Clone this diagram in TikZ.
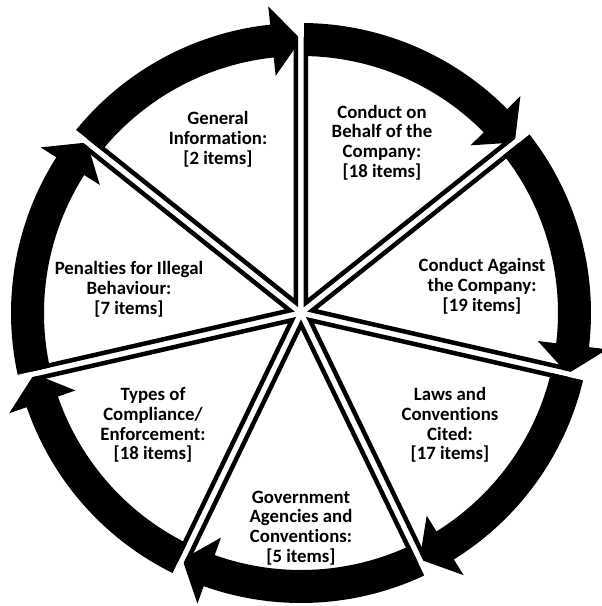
\documentclass[tikz,border=0pt]{standalone}
\usepackage{fontspec}
\setmainfont{Carlito}[Ligatures={NoCommon}]
\usetikzlibrary{calc}
\begin{document}
\begin{tikzpicture}[x=1pt,y=1pt,
  lbl/.style={align=center,font=\bfseries\fontsize{18.8}{19.8}\selectfont,inner sep=0pt},
  gapline/.style={white,line width=5.5pt},
  wedgeline/.style={black,line width=4.5pt,line join=miter}]
\useasboundingbox (-301,-293) rectangle (301,313);
\def\ro{290}\def\ri{257}\def\rmid{273.5}\def\ah{35}\def\al{6.1}
\def\g{5}\def\rw{276}
\pgfmathsetmacro\rA{\rmid+\ah}
\pgfmathsetmacro\rB{\rmid-\ah}
\pgfmathsetmacro\rG{\ro+3}
\pgfmathsetmacro\apx{\g/sin(180/7)}
% ring arcs with arrowheads
\foreach \k in {0,...,6}{
  \pgfmathsetmacro\a{90-\k*360/7}
  \pgfmathsetmacro\e{90-(\k+1)*360/7}
  \pgfmathsetmacro\b{\e+\al}
  \fill[black] (\a:\ro pt) arc[start angle=\a,end angle=\b,radius=\ro pt]
    -- (\b:\rA pt) -- (\e:\rmid pt) -- (\b:\rB pt) -- (\b:\ri pt)
    arc[start angle=\b,end angle=\a,radius=\ri pt] -- cycle;
}
% white gaps
\foreach \k in {0,...,6}{
  \pgfmathsetmacro\a{90-\k*360/7}
  \draw[gapline] (0,0) -- (\a:\rG pt);
}
% wedge outlines
\foreach \k in {0,...,6}{
  \pgfmathsetmacro\a{90-\k*360/7}
  \pgfmathsetmacro\e{90-(\k+1)*360/7}
  \pgfmathsetmacro\bis{(\a+\e)/2}
  \pgfmathsetmacro\am{\a-90}
  \pgfmathsetmacro\ep{\e+90}
  \draw[wedgeline] ($(\a:\rw pt)+(\am:\g pt)$) -- (\bis:\apx pt) -- ($(\e:\rw pt)+(\ep:\g pt)$);
}
\node[lbl] (gen) at (-83,174) {General\\Information:\\{[2 items]}};
\node[lbl] (beh) at (81,170.5) {Conduct on\\Behalf of the\\Company:\\{[18 items]}};
\node[lbl] (aga) at (181,27) {Conduct Against\\the Company:\\{[19 items]}};
\node[lbl] (law) at (149,-112) {Laws and\\Conventions\\Cited:\\{[17 items]}};
\node[lbl] (gov) at (0,-215) {Government\\Agencies and\\Conventions:\\{[5 items]}};
\node[lbl] (typ) at (-148,-112) {Types of\\Compliance/\\Enforcement:\\{[18 items]}};
\node[lbl] (pen) at (-172,24) {Penalties for Illegal\\Behaviour:\\{[7 items]}};
\end{tikzpicture}
\end{document}
